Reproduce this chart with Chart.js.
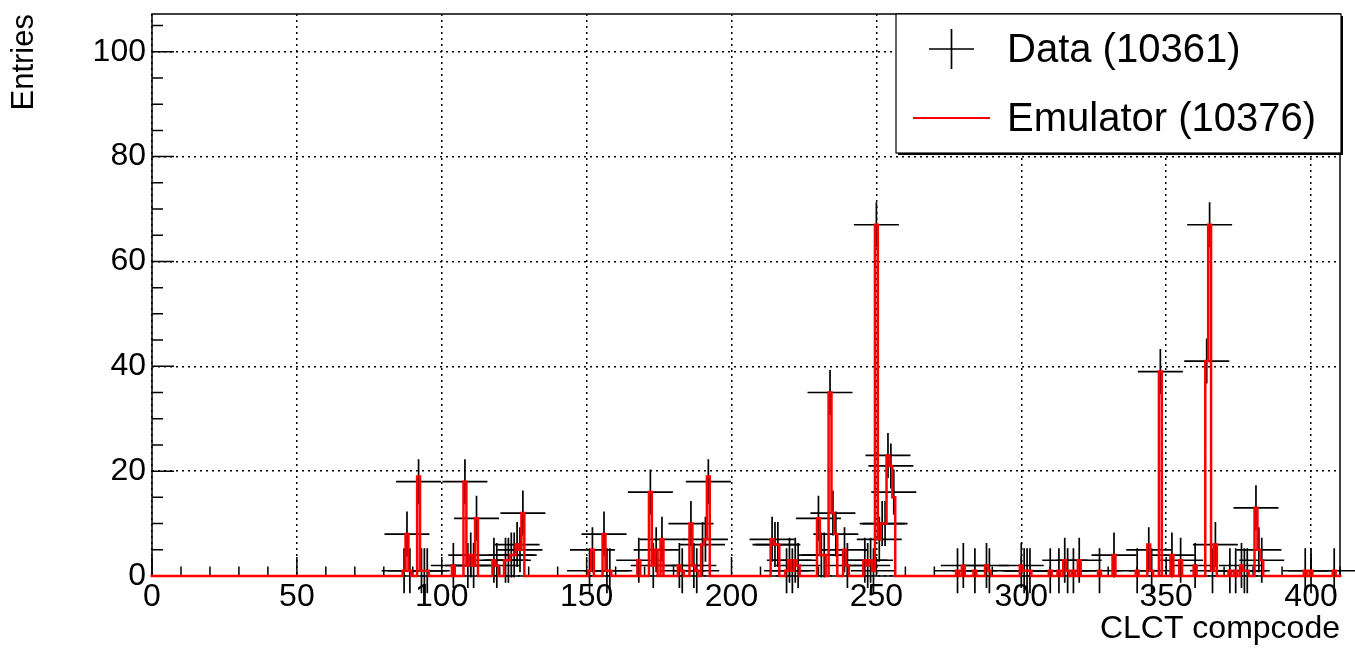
<!DOCTYPE html>
<html>
<head>
<meta charset="utf-8">
<title>CLCT compcode</title>
<script src="https://cdn.jsdelivr.net/npm/chart.js@4.4.1/dist/chart.umd.min.js"></script>
<style>
  html, body { margin: 0; padding: 0; background: #fff; }
  #wrap { width: 1355px; height: 648px; }
</style>
</head>
<body>
<div id="wrap"><canvas id="compcodeChart" width="1355" height="648"></canvas></div>
<script>
/* ---------------------------
    DATA
------------------------------ */
// emulator histogram, non-empty bins only (bin centre : entries)
const emuBins = [87, 88, 89, 92, 93, 94, 95, 104, 108, 109, 110, 111, 112, 118, 119, 122, 123, 124, 125, 126, 127, 128,
  151, 152, 156, 157, 158, 168, 172, 173, 174, 176, 182, 183, 186, 187, 188, 190, 191, 192,
  214, 215, 216, 219, 220, 221, 222, 223, 230, 231, 232, 234, 235, 236, 239, 240, 246, 247, 248, 249, 250, 251, 252, 253, 254, 255, 256,
  278, 280, 284, 288, 289, 300, 301, 302, 303, 310, 313, 315, 316, 318, 320, 327, 332, 340, 344, 345, 348, 352, 355, 360,
  364, 365, 366, 367, 372, 374, 376, 377, 378, 381, 382, 383, 398, 400, 408];
const emuCounts = [1, 8, 1, 19, 1, 1, 1, 2, 18, 2, 4, 2, 11, 3, 2, 3, 3, 4, 4, 6, 5, 12,
  1, 5, 8, 1, 1, 3, 16, 2, 5, 7, 2, 1, 10, 2, 1, 6, 7, 19,
  7, 6, 6, 1, 3, 1, 3, 2, 11, 4, 4, 35, 12, 8, 5, 2, 3, 2, 3, 1, 67, 7, 10, 10, 23, 21, 15,
  1, 2, 1, 2, 1, 2, 1, 1, 1, 1, 1, 3, 1, 1, 3, 1, 4, 1, 6, 1, 39, 4, 3, 2,
  41, 67, 1, 6, 1, 1, 2, 1, 1, 13, 5, 3, 1, 1, 1];

// data histogram, non-empty bins only
const dataBins = [87, 88, 89, 92, 93, 94, 95, 104, 108, 109, 110, 111, 112, 118, 119, 122, 123, 124, 125, 126, 127, 128,
  151, 152, 156, 157, 158, 168, 172, 173, 174, 176, 182, 183, 186, 187, 188, 190, 191, 192,
  214, 215, 216, 219, 220, 221, 222, 223, 230, 231, 232, 234, 235, 236, 239, 240, 246, 247, 248, 249, 250, 251, 252, 253, 254, 255, 256,
  278, 280, 284, 288, 289, 300, 301, 302, 303, 310, 313, 315, 316, 318, 320, 327, 332, 340, 344, 345, 348, 352, 355, 360,
  364, 365, 366, 367, 372, 374, 376, 377, 378, 381, 382, 383, 398, 400, 408];
const dataCounts = [1, 8, 1, 18, 1, 1, 1, 2, 18, 2, 4, 2, 11, 3, 2, 3, 3, 4, 4, 6, 5, 12,
  1, 5, 8, 1, 1, 3, 16, 2, 5, 7, 2, 1, 10, 2, 1, 6, 7, 18,
  7, 6, 6, 1, 3, 1, 3, 2, 11, 4, 4, 35, 12, 8, 5, 2, 3, 2, 3, 1, 67, 7, 10, 10, 23, 21, 16,
  1, 2, 1, 2, 1, 2, 1, 1, 1, 1, 1, 3, 1, 1, 3, 1, 4, 1, 5, 1, 39, 4, 3, 2,
  41, 67, 1, 6, 1, 1, 2, 1, 1, 13, 5, 3, 1, 1, 1];

const legendLabels = ["Data (10361)", "Emulator (10376)"];
const xTitle = "CLCT compcode";
const yTitle = "Entries";
const xTickValues = [0, 50, 100, 150, 200, 250, 300, 350, 400];
const yTickValues = [0, 20, 40, 60, 80, 100];

const X_MIN = 0, X_MAX = 410, Y_MAX = 107.2, N_BINS = 410;
const FONT = "'Liberation Sans', Arial, Helvetica, sans-serif";

/* ---------------------------
    BUILD SERIES
------------------------------ */
// full step outline for the emulator (empty bins drawn at 0)
const emuByBin = {};
emuBins.forEach((b, i) => { emuByBin[b] = emuCounts[i]; });
const emuStep = [];
for (let b = 0; b <= N_BINS; b++) {
    emuStep.push({ x: b - 0.5, y: emuByBin[b] || 0 });
}
emuStep.push({ x: N_BINS + 0.5, y: 0 });

const dataPoints = dataBins.map((b, i) => ({ x: b, y: dataCounts[i] }));

/* ---------------------------
    PLUGINS (frame + ticks, legend box)
------------------------------ */
const frameTicks = {
    id: "frameTicks",
    beforeDatasetsDraw(chart) {
        const { ctx, chartArea: a, scales: { x, y } } = chart;
        ctx.save();
        ctx.strokeStyle = "#000";
        ctx.lineWidth = 1.5;
        ctx.strokeRect(a.left, a.top, a.right - a.left, a.bottom - a.top);
        ctx.beginPath();
        for (let v = X_MIN; v <= X_MAX; v += 10) {
            const px = x.getPixelForValue(v);
            const len = v % 50 === 0 ? 19 : 9.5;
            ctx.moveTo(px, a.bottom);
            ctx.lineTo(px, a.bottom - len);
        }
        for (let v = 0; v <= Y_MAX; v += 5) {
            const py = y.getPixelForValue(v);
            const len = v % 20 === 0 ? 22 : 11;
            ctx.moveTo(a.left, py);
            ctx.lineTo(a.left + len, py);
        }
        ctx.stroke();
        ctx.restore();
    }
};

const legendBox = {
    id: "legendBox",
    afterDraw(chart) {
        const { ctx } = chart;
        const bx = 896, by = 14, bw = 445, bh = 139;
        ctx.save();
        ctx.fillStyle = "#fff";
        ctx.fillRect(bx, by, bw, bh);
        ctx.fillStyle = "#000";
        ctx.fillRect(bx + 2, by + bh, bw, 2);
        ctx.fillRect(bx + bw, by + 2, 2, bh);
        ctx.strokeStyle = "#000";
        ctx.lineWidth = 1.2;
        ctx.strokeRect(bx, by, bw, bh);

        // data marker
        ctx.lineWidth = 1.7;
        ctx.beginPath();
        ctx.moveTo(929, 49); ctx.lineTo(974, 49);
        ctx.moveTo(951.5, 29); ctx.lineTo(951.5, 69);
        ctx.stroke();
        // emulator line
        ctx.strokeStyle = "#ff0000";
        ctx.lineWidth = 2;
        ctx.beginPath();
        ctx.moveTo(913, 118); ctx.lineTo(990, 118);
        ctx.stroke();

        ctx.fillStyle = "#000";
        ctx.font = "40px " + FONT;
        ctx.textBaseline = "middle";
        ctx.textAlign = "left";
        ctx.fillText(legendLabels[0], 1007, 51);
        ctx.fillText(legendLabels[1], 1007, 120);
        ctx.restore();
    }
};

/* ---------------------------
    CHART
------------------------------ */
new Chart(document.getElementById("compcodeChart"), {
    type: "line",
    data: {
        datasets: [
            {
                label: legendLabels[1],
                data: emuStep,
                borderColor: "#ff0000",
                borderWidth: 2.5,
                stepped: "before",
                pointRadius: 0,
                fill: false,
                clip: 4,
                order: 1
            },
            {
                label: legendLabels[0],
                data: dataPoints,
                showLine: false,
                pointStyle: "cross",
                pointRadius: 22.5,
                pointHoverRadius: 22.5,
                pointBorderColor: "#000",
                pointBorderWidth: 1.7,
                clip: false,
                order: 2
            }
        ]
    },
    options: {
        responsive: false,
        animation: false,
        devicePixelRatio: 1,
        events: [],
        layout: { autoPadding: false, padding: { left: 0, right: 15, top: 14, bottom: 0 } },
        plugins: {
            legend: { display: false },
            tooltip: { enabled: false }
        },
        scales: {
            x: {
                type: "linear",
                min: X_MIN,
                max: X_MAX,
                afterBuildTicks: (s) => { s.ticks = xTickValues.map(v => ({ value: v })); },
                ticks: {
                    color: "#000",
                    font: { family: FONT, size: 32 },
                    padding: 2,
                    maxRotation: 0,
                    autoSkip: false
                },
                grid: { color: "#000", lineWidth: 1.5, drawTicks: false },
                border: { display: false, dash: [2, 4] },
                title: {
                    display: true,
                    text: xTitle,
                    align: "end",
                    color: "#000",
                    font: { family: FONT, size: 32 },
                    padding: { top: 0, bottom: 0 }
                },
                afterFit: (s) => { s.height = 72; s.paddingLeft = 0; s.paddingRight = 0; }
            },
            y: {
                type: "linear",
                min: 0,
                max: Y_MAX,
                afterBuildTicks: (s) => { s.ticks = yTickValues.map(v => ({ value: v })); },
                ticks: {
                    color: "#000",
                    font: { family: FONT, size: 32 },
                    padding: 6
                },
                grid: { color: "#000", lineWidth: 1.5, drawTicks: false },
                border: { display: false, dash: [2, 4] },
                title: {
                    display: true,
                    text: yTitle,
                    align: "end",
                    color: "#000",
                    font: { family: FONT, size: 31 },
                    padding: { top: 6, bottom: 0 }
                },
                afterFit: (s) => { s.width = 152; s.paddingTop = 0; s.paddingBottom = 0; }
            }
        }
    },
    plugins: [frameTicks, legendBox]
});
</script>
</body>
</html>
